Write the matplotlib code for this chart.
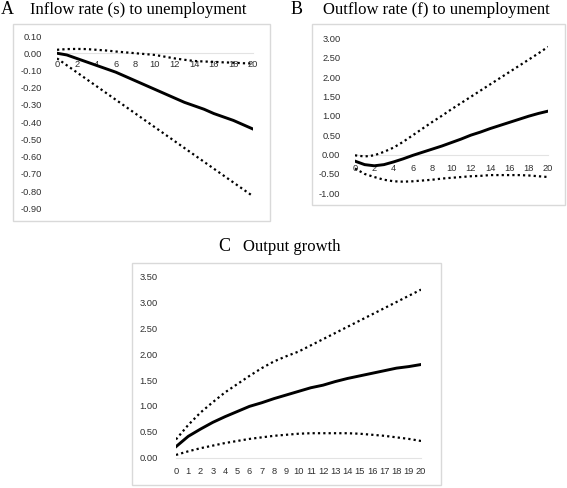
import numpy as np
import matplotlib
matplotlib.use("Agg")
import matplotlib.pyplot as plt
from matplotlib.patches import Rectangle

W, H = 567, 488

# horizon (quarters)
h = list(range(21))

# A: inflow rate (s) to unemployment
a_mid = [0, -0.01, -0.03, -0.05, -0.07, -0.09, -0.11, -0.135, -0.16, -0.185, -0.21,
         -0.235, -0.26, -0.285, -0.305, -0.325, -0.35, -0.37, -0.39, -0.415, -0.44]
a_up = [0.02, 0.024, 0.025, 0.024, 0.02, 0.016, 0.01, 0.005, 0.0, -0.005, -0.01,
        -0.02, -0.03, -0.038, -0.045, -0.048, -0.05, -0.053, -0.055, -0.058, -0.06]
a_lo = [-0.03, -0.07, -0.11, -0.15, -0.19, -0.23, -0.27, -0.31, -0.35, -0.39, -0.43,
        -0.47, -0.51, -0.55, -0.59, -0.63, -0.67, -0.71, -0.75, -0.79, -0.83]

# B: outflow rate (f) to unemployment
b_mid = [-0.17, -0.26, -0.29, -0.26, -0.19, -0.11, -0.02, 0.06, 0.14, 0.22, 0.31,
         0.4, 0.5, 0.58, 0.67, 0.75, 0.83, 0.91, 0.99, 1.06, 1.12]
b_up = [-0.02, -0.05, -0.02, 0.07, 0.18, 0.33, 0.5, 0.67, 0.84, 1.0, 1.17,
        1.33, 1.49, 1.65, 1.81, 1.97, 2.13, 2.29, 2.45, 2.61, 2.78]
b_lo = [-0.36, -0.5, -0.58, -0.65, -0.69, -0.7, -0.69, -0.67, -0.65, -0.62, -0.6,
        -0.58, -0.56, -0.55, -0.53, -0.53, -0.53, -0.53, -0.54, -0.56, -0.58]

# C: output growth
c_mid = [0.21, 0.41, 0.55, 0.68, 0.79, 0.89, 0.99, 1.06, 1.14, 1.21, 1.28,
         1.35, 1.40, 1.47, 1.53, 1.58, 1.63, 1.68, 1.73, 1.76, 1.80]
c_up = [0.35, 0.63, 0.87, 1.07, 1.26, 1.42, 1.58, 1.73, 1.86, 1.96, 2.05,
        2.17, 2.29, 2.41, 2.53, 2.65, 2.77, 2.89, 3.01, 3.13, 3.25]
c_lo = [0.05, 0.12, 0.18, 0.23, 0.28, 0.32, 0.36, 0.39, 0.42, 0.44, 0.46,
        0.47, 0.47, 0.47, 0.47, 0.46, 0.44, 0.42, 0.39, 0.36, 0.32]


def rect(l, t, r, b):
    return [l / W, 1 - b / H, (r - l) / W, (b - t) / H]


fig = plt.figure(figsize=(W / 100, H / 100), dpi=100)
fig.patch.set_facecolor('white')


def panel(letter, title, box, area, title_xy, mid, up, lo, ylim, yticks, xticks,
          ypad, xpad):
    l, t, r, b = box
    fig.patches.append(Rectangle((l / W, 1 - b / H), (r - l) / W, (b - t) / H,
                                 transform=fig.transFigure, fill=False,
                                 edgecolor='#d9d9d9', lw=1.0))
    lx, tx, ty = title_xy
    fig.text(lx / W, 1 - ty / H, letter, family='Liberation Serif', fontsize=13,
             va='center', ha='left')
    fig.text(tx / W, 1 - ty / H, title, family='Liberation Serif', fontsize=12,
             va='center', ha='left')
    ax = fig.add_axes(rect(*area))
    ax.plot(h, up, color='black', lw=1.6, ls=(0, (1, 1.4)))
    ax.plot(h, lo, color='black', lw=1.6, ls=(0, (1, 1.4)))
    ax.plot(h, mid, color='black', lw=2.1)
    ax.set_xlim(0, 20)
    ax.set_ylim(*ylim)
    ax.set_yticks(yticks)
    ax.set_yticklabels(['%.2f' % v for v in yticks])
    ax.set_xticks(xticks)
    ax.set_xticklabels([str(v) for v in xticks])
    for s in ['top', 'right', 'left']:
        ax.spines[s].set_visible(False)
    ax.spines['bottom'].set_position(('data', 0))
    ax.spines['bottom'].set_color('#e3e3e3')
    ax.spines['bottom'].set_linewidth(0.8)
    ax.spines['bottom'].set_zorder(0)
    ax.tick_params(axis='y', length=0, pad=ypad, labelsize=6.7, labelcolor='#303030')
    ax.tick_params(axis='x', length=0, pad=xpad, labelsize=6.7, labelcolor='#303030')
    for lab in ax.get_xticklabels() + ax.get_yticklabels():
        lab.set_family('Liberation Sans')
    ax.patch.set_alpha(0)
    return ax


panel('A', 'Inflow rate (s) to unemployment', (13, 24, 270, 221), (57, 36, 253, 208.3),
      (1, 30.5, 10), a_mid, a_up, a_lo, (-0.9, 0.1),
      [0.1, 0.0, -0.1, -0.2, -0.3, -0.4, -0.5, -0.6, -0.7, -0.8, -0.9],
      list(range(0, 21, 2)), 10.5, 5)

panel('B', 'Outflow rate (f) to unemployment', (312, 24, 565, 205), (355, 38.3, 548, 193.3),
      (291, 322.5, 10), b_mid, b_up, b_lo, (-1.0, 3.0),
      [3.0, 2.5, 2.0, 1.5, 1.0, 0.5, 0.0, -0.5, -1.0],
      list(range(0, 21, 2)), 10.5, 6.5)

panel('C', 'Output growth', (132, 263, 441, 485), (176, 276.7, 421, 457.5),
      (218, 243, 246.5), c_mid, c_up, c_lo, (0.0, 3.5),
      [3.5, 3.0, 2.5, 2.0, 1.5, 1.0, 0.5, 0.0],
      list(range(0, 21)), 13, 7)

fig.savefig('out.png', dpi=100)
